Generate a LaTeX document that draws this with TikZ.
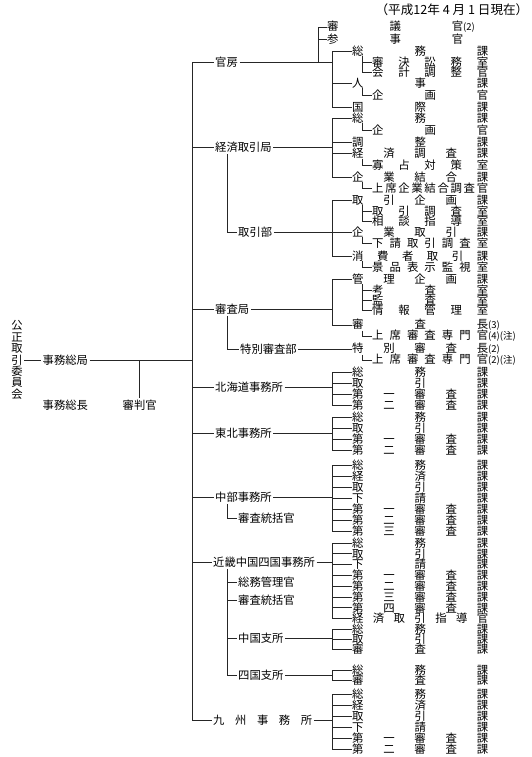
\documentclass[tikz,border=0pt]{standalone}
\usepackage{fontspec}
\setmainfont{Noto Sans CJK JP}
\usetikzlibrary{positioning}
\makeatletter
\def\kin@go#1{\@tfor\kin@c:=#1\do{\kin@sep\kin@c\let\kin@sep\hfil}}
\newcommand\kintou[2]{\hbox to #1{\let\kin@sep\relax\expandafter\kin@go\expandafter{#2}}}
\makeatother
\newcommand\sfx[1]{{\fontsize{9.5}{10}\selectfont#1}}
\tikzset{
  lbl/.style = {font=\fontsize{11.3}{12}\selectfont, inner sep=1.5pt, anchor=west},
  rw/.style  = {font=\fontsize{11.4}{12}\selectfont, inner sep=0pt, anchor=west},
  ln/.style  = {line width=0.75pt, draw=black!85},
}

\begin{document}
\begin{tikzpicture}[x=1pt, y=-1pt]
\useasboundingbox (0,0) rectangle (532,757);
% columns of the brackets
\coordinate (trunk) at (192,0);
\coordinate (mid)   at (227,0);
\coordinate (tbr)   at (318,0);
\coordinate (brk)   at (332,0);
\coordinate (sbr)   at (362,0);

\node[lbl, anchor=east, font=\fontsize{12.6}{13}\selectfont] (date) at (530,10) {（平成12年 4 月 1 日現在）};

% left side
\node[lbl, anchor=center, align=center, font=\fontsize{11.3}{11.4}\selectfont] (iinkai) at (17,360)
  {公\\正\\取\\引\\委\\員\\会};
\node[lbl] (jmk) at (41,360) {事務総局};
\node[lbl] (jmc) at (41,405) {事務総長};
\node[lbl] (shinpan) at (121,405) {審判官};

% bureaus and offices
\node[lbl] (kanbo)     at (213.5,62)  {官房};
\node[lbl] (keizai)    at (213.5,147) {経済取引局};
\node[lbl] (torihiki)  at (236.5,232) {取引部};
\node[lbl] (shinsa)    at (213.5,309) {審査局};
\node[lbl] (tokubetsu) at (238.5,349) {特別審査部};
\node[lbl] (hokkaido)  at (213.5,387) {北海道事務所};
\node[lbl] (tohoku)    at (213.5,433) {東北事務所};
\node[lbl] (chubu)     at (213.5,497) {中部事務所};
\node[lbl] (chubutk)   at (236.5,518) {審査統括官};
\node[lbl] (kinki)     at (211.5,562) {近畿中国四国事務所};
\node[lbl] (kinkikr)   at (236.5,582) {総務管理官};
\node[lbl] (kinkitk)   at (236.5,600) {審査統括官};
\node[lbl] (chugoku)   at (236.5,638) {中国支所};
\node[lbl] (shikoku)   at (236.5,675) {四国支所};
\node[lbl] (kyushu)    at (211.5,720) {\kintou{99pt}{九州事務所}};

% rows
\node[rw] (sg1) at (327,27) {\kintou{136pt}{審議官}\sfx{(2)}};
\node[rw] (sg2) at (327,39) {\kintou{136pt}{参事官}};

\node[rw] (kb1) at (352,51)  {\kintou{136pt}{総務課}};
\node[rw] (kb2) at (372,62)  {\kintou{116pt}{審決訟務室}};
\node[rw] (kb3) at (372,72)  {\kintou{116pt}{会計調整官}};
\node[rw] (kb4) at (352,83)  {\kintou{136pt}{人事課}};
\node[rw] (kb5) at (372,95)  {\kintou{116pt}{企画官}};
\node[rw] (kb6) at (352,107) {\kintou{136pt}{国際課}};

\node[rw] (kz1) at (352,118) {\kintou{136pt}{総務課}};
\node[rw] (kz2) at (372,130) {\kintou{116pt}{企画官}};
\node[rw] (kz3) at (352,142) {\kintou{136pt}{調整課}};
\node[rw] (kz4) at (352,153) {\kintou{136pt}{経済調査課}};
\node[rw] (kz5) at (372,165) {\kintou{116pt}{寡占対策室}};
\node[rw] (kz6) at (352,177) {\kintou{136pt}{企業結合課}};
\node[rw] (kz7) at (372,188) {\kintou{116pt}{上席企業結合調査官}};

\node[rw] (tb1) at (352,200) {\kintou{136pt}{取引企画課}};
\node[rw] (tb2) at (372,211) {\kintou{116pt}{取引調査室}};
\node[rw] (tb3) at (372,221) {\kintou{116pt}{相談指導室}};
\node[rw] (tb4) at (352,232) {\kintou{136pt}{企業取引課}};
\node[rw] (tb5) at (372,243) {\kintou{116pt}{下請取引調査室}};
\node[rw] (tb6) at (352,256) {\kintou{136pt}{消費者取引課}};
\node[rw] (tb7) at (372,267) {\kintou{116pt}{景品表示監視室}};

\node[rw] (sa1) at (352,279) {\kintou{136pt}{管理企画課}};
\node[rw] (sa2) at (372,290) {\kintou{116pt}{考査室}};
\node[rw] (sa3) at (372,300) {\kintou{116pt}{監査室}};
\node[rw] (sa4) at (372,310) {\kintou{116pt}{情報管理室}};
\node[rw] (sa5) at (352,325) {\kintou{136pt}{審査長}\sfx{(3)}};
\node[rw] (sa6) at (372,336) {\kintou{116pt}{上席審査専門官}\sfx{(4)(注)}};

\node[rw] (tk1) at (352,349) {\kintou{136pt}{特別審査長}\sfx{(2)}};
\node[rw] (tk2) at (372,360) {\kintou{116pt}{上席審査専門官}\sfx{(2)(注)}};

\foreach \nm [count=\i] in {総務課,取引課,第一審査課,第二審査課}
  \node[rw] (hk\i) at (352,{372+11*(\i-1)}) {\kintou{136pt}{\nm}};
\foreach \nm [count=\i] in {総務課,取引課,第一審査課,第二審査課}
  \node[rw] (th\i) at (352,{417+11*(\i-1)}) {\kintou{136pt}{\nm}};
\foreach \nm [count=\i] in {総務課,経済課,取引課,下請課,第一審査課,第二審査課,第三審査課}
  \node[rw] (cb\i) at (352,{465+11*(\i-1)}) {\kintou{136pt}{\nm}};
\foreach \nm [count=\i] in {総務課,取引課,下請課,第一審査課,第二審査課,第三審査課,第四審査課,経済取引指導官}
  \node[rw] (kk\i) at (352,{543+10.8*(\i-1)}) {\kintou{136pt}{\nm}};
\foreach \nm [count=\i] in {総務課,取引課,審査課}
  \node[rw] (cg\i) at (352,{629+10*(\i-1)}) {\kintou{136pt}{\nm}};
\foreach \nm [count=\i] in {総務課,審査課}
  \node[rw] (sk\i) at (352,{670+10*(\i-1)}) {\kintou{136pt}{\nm}};
\foreach \nm [count=\i] in {総務課,経済課,取引課,下請課,第一審査課,第二審査課}
  \node[rw] (ks\i) at (352,{694+11*(\i-1)}) {\kintou{136pt}{\nm}};

% trunk
\draw[ln] (kanbo.west) -- (kanbo.west -| trunk) -- (kyushu.west -| trunk) -- (kyushu.west);
\foreach \n in {keizai,shinsa,hokkaido,tohoku,chubu,kinki}
  \draw[ln] (\n.west) -- (\n.west -| trunk);
\draw[ln] (jmk.east) -- (jmk.east -| trunk);
\draw[ln] (iinkai.east) -- (jmk.west);
\draw[ln] (shinpan.north) -- (shinpan.north |- jmk.east);

% 官房
\draw[ln] (kanbo.east) -- (kanbo.east -| brk);
\draw[ln] (kb1.west) -- (kb1.west -| brk) |- (kb6.west);
\draw[ln] (kb4.west) -- (kb4.west -| brk);
\draw[ln] (sg1.west) -- (sg1.west -| tbr) -- (kanbo.east -| tbr);
\draw[ln] (sg2.west) -- (sg2.west -| tbr);
\draw[ln] (kb1.south -| sbr) |- (kb3.west);
\draw[ln] (kb2.west) -- (kb2.west -| sbr);
\draw[ln] (kb4.south -| sbr) |- (kb5.west);

% 経済取引局
\draw[ln] (keizai.east) -- (keizai.east -| brk);
\draw[ln] (kz1.west) -- (kz1.west -| brk) |- (kz6.west);
\foreach \i in {3,4} \draw[ln] (kz\i.west) -- (kz\i.west -| brk);
\draw[ln] (kz1.south -| sbr) |- (kz2.west);
\draw[ln] (kz4.south -| sbr) |- (kz5.west);
\draw[ln] (kz6.south -| sbr) |- (kz7.west);

% 取引部
\draw[ln] (keizai.south -| mid) |- (torihiki.west);
\draw[ln] (torihiki.east) -- (torihiki.east -| brk);
\draw[ln] (tb1.west) -- (tb1.west -| brk) |- (tb6.west);
\draw[ln] (tb4.west) -- (tb4.west -| brk);
\draw[ln] (tb1.south -| sbr) |- (tb3.west);
\draw[ln] (tb2.west) -- (tb2.west -| sbr);
\draw[ln] (tb4.south -| sbr) |- (tb5.west);
\draw[ln] (tb6.south -| sbr) |- (tb7.west);

% 審査局
\draw[ln] (shinsa.east) -- (shinsa.east -| brk);
\draw[ln] (sa1.west) -- (sa1.west -| brk) |- (sa5.west);
\draw[ln] (sa1.south -| sbr) |- (sa4.west);
\foreach \i in {2,3} \draw[ln] (sa\i.west) -- (sa\i.west -| sbr);
\draw[ln] (sa5.south -| sbr) |- (sa6.west);

% 特別審査部
\draw[ln] (shinsa.south -| mid) |- (tokubetsu.west);
\draw[ln] (tokubetsu.east) -- (tk1.west);
\draw[ln] (tk1.south -| sbr) |- (tk2.west);

% 地方事務所
\draw[ln] (hokkaido.east) -- (hokkaido.east -| brk);
\draw[ln] (hk1.west) -- (hk1.west -| brk) |- (hk4.west);
\foreach \i in {2,3} \draw[ln] (hk\i.west) -- (hk\i.west -| brk);

\draw[ln] (tohoku.east) -- (tohoku.east -| brk);
\draw[ln] (th1.west) -- (th1.west -| brk) |- (th4.west);
\foreach \i in {2,3} \draw[ln] (th\i.west) -- (th\i.west -| brk);

\draw[ln] (chubu.east) -- (chubu.east -| brk);
\draw[ln] (cb1.west) -- (cb1.west -| brk) |- (cb7.west);
\foreach \i in {2,...,6} \draw[ln] (cb\i.west) -- (cb\i.west -| brk);
\draw[ln] (chubu.south -| mid) |- (chubutk.west);

\draw[ln] (kinki.east) -- (kinki.east -| brk);
\draw[ln] (kk1.west) -- (kk1.west -| brk) |- (kk8.west);
\foreach \i in {2,...,7} \draw[ln] (kk\i.west) -- (kk\i.west -| brk);
\draw[ln] (kinki.south -| mid) |- (shikoku.west);
\foreach \n in {kinkikr,kinkitk,chugoku} \draw[ln] (\n.west) -- (\n.west -| mid);

\draw[ln] (chugoku.east) -- (chugoku.east -| brk);
\draw[ln] (cg1.west) -- (cg1.west -| brk) |- (cg3.west);
\draw[ln] (cg2.west) -- (cg2.west -| brk);

\draw[ln] (shikoku.east) -- (shikoku.east -| brk);
\draw[ln] (sk1.west) -- (sk1.west -| brk) |- (sk2.west);

\draw[ln] (kyushu.east) -- (kyushu.east -| brk);
\draw[ln] (ks1.west) -- (ks1.west -| brk) |- (ks6.west);
\foreach \i in {2,...,5} \draw[ln] (ks\i.west) -- (ks\i.west -| brk);
\end{tikzpicture}
\end{document}
